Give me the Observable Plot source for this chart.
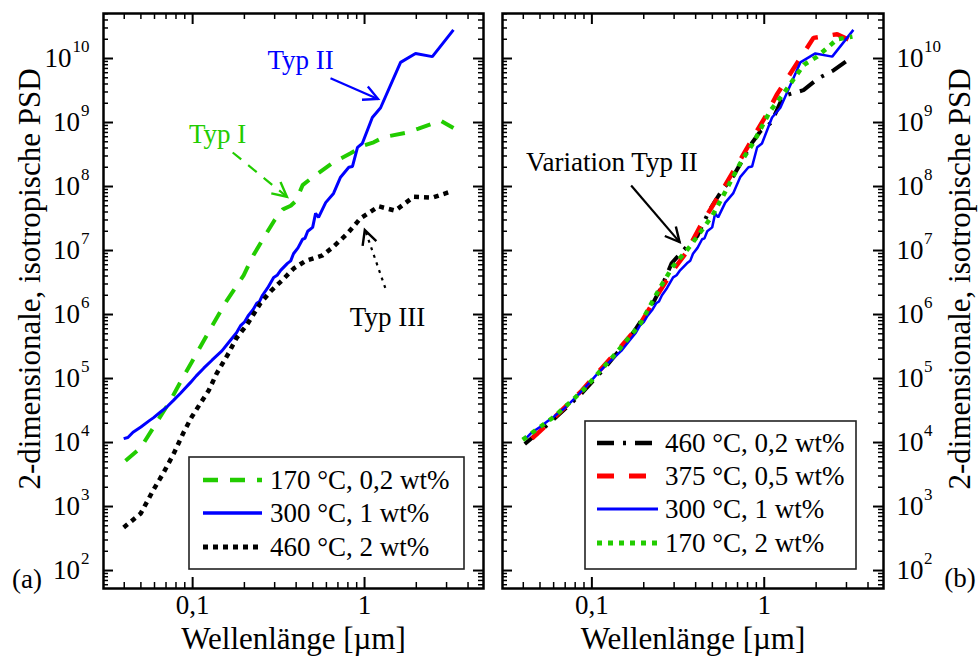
<!DOCTYPE html>
<html><head><meta charset="utf-8">
<script src="https://cdn.jsdelivr.net/npm/d3@7"></script>
<script src="https://cdn.jsdelivr.net/npm/@observablehq/plot@0.6"></script>
<style>
html,body{margin:0;padding:0;background:#fff;}
#wrap{position:relative;width:978px;height:668px;overflow:hidden;background:#fff;}
#pa{position:absolute;left:0;top:0;}
#pb{position:absolute;left:488px;top:0;}
</style></head><body>
<div id="wrap"><div id="pa"></div><div id="pb"></div></div>
<script>
// ---------- data (wavelength in µm, PSD) ----------
const typI_170_02 = [[0.0407,5.2e3],[0.0499,8.3e3],[0.059,1.7e4],[0.0745,4.6e4],[0.086,9.4e4],[0.0987,1.8e5],[0.116,3.9e5],[0.132,7.2e5],[0.158,1.65e6],[0.198,4.1e6],[0.226,8.5e6],[0.27,1.9e7],[0.30,3.0e7],[0.335,4.4e7],[0.372,5.0e7],[0.40,6.0e7],[0.436,1.05e8],[0.50,1.4e8],[0.66,2.4e8],[0.83,3.3e8],[1.0,4.4e8],[1.13,4.9e8],[1.29,5.9e8],[1.78,7.0e8],[2.06,8.0e8],[2.77,1.07e9],[3.29,8.2e8]];
const typII_300_1 = [[0.0397,1.15e4],[0.042,1.2e4],[0.045,1.45e4],[0.05,1.75e4],[0.056,2.2e4],[0.0593,2.45e4],[0.065,3.0e4],[0.07,3.5e4],[0.0776,4.6e4],[0.085,5.9e4],[0.0973,8.7e4],[0.105,1.1e5],[0.116,1.45e5],[0.13,1.95e5],[0.148,2.7e5],[0.165,3.9e5],[0.18,5.2e5],[0.19,6.7e5],[0.2,7.6e5],[0.21,9.5e5],[0.225,1.2e6],[0.236,1.5e6],[0.245,1.6e6],[0.255,2.0e6],[0.273,2.6e6],[0.296,3.8e6],[0.31,4.1e6],[0.325,4.9e6],[0.356,6.3e6],[0.372,6.9e6],[0.386,8.9e6],[0.41,1.1e7],[0.436,1.5e7],[0.45,1.55e7],[0.467,2.0e7],[0.499,2.3e7],[0.519,3.8e7],[0.54,3.3e7],[0.594,5.6e7],[0.66,7.8e7],[0.725,1.4e8],[0.81,2.0e8],[0.85,2.05e8],[0.91,4.1e8],[0.97,4.7e8],[1.11,1.2e9],[1.24,1.7e9],[1.62,8.7e9],[1.98,1.2e10],[2.48,1.07e10],[3.29,2.8e10]];
const typIII_460_2 = [[0.0397,470],[0.0499,780],[0.059,1.8e3],[0.0678,3.4e3],[0.0776,6.7e3],[0.0887,1.45e4],[0.0987,2.5e4],[0.111,4.1e4],[0.124,6.5e4],[0.138,1.2e5],[0.162,2.5e5],[0.18,4.3e5],[0.206,6.8e5],[0.248,1.5e6],[0.284,2.3e6],[0.338,3.6e6],[0.386,5.2e6],[0.454,6.9e6],[0.57,8.4e6],[0.66,1.15e7],[0.796,1.85e7],[0.948,3.2e7],[1.21,4.9e7],[1.51,4.2e7],[1.93,6.9e7],[2.48,6.7e7],[3.16,8.3e7]];

const var_460_02 = [[0.0408,9.5e3],[0.05,1.5e4],[0.06,2.3e4],[0.075,4.0e4],[0.088,6.0e4],[0.1,8.8e4],[0.12,1.5e5],[0.14,2.5e5],[0.165,4.2e5],[0.19,7.5e5],[0.22,1.3e6],[0.255,2.8e6],[0.29,6.3e6],[0.338,1.0e7],[0.41,1.7e7],[0.48,4.2e7],[0.53,6.5e7],[0.57,8.7e7],[0.66,1.45e8],[0.73,2.3e8],[0.83,4.4e8],[0.95,7.3e8],[1.1,1.0e9],[1.29,2.6e9],[1.69,3.2e9],[2.06,4.9e9],[2.52,6.5e9],[3.25,1.07e10]];
const var_375_05 = [[0.0449,1.15e4],[0.056,2.0e4],[0.07,3.6e4],[0.0875,6.5e4],[0.114,1.45e5],[0.14,2.7e5],[0.188,6.7e5],[0.245,2.2e6],[0.296,4.9e6],[0.35,9.0e6],[0.425,2.4e7],[0.555,7.8e7],[0.725,2.6e8],[0.91,7.5e8],[1.01,1.2e9],[1.19,2.8e9],[1.38,5.2e9],[1.93,2.1e10],[2.65,2.4e10],[3.25,1.85e10]];
const var_300_1 = typII_300_1;
const var_170_2 = [[0.0397,1.1e4],[0.05,1.75e4],[0.06,2.5e4],[0.075,4.3e4],[0.09,6.8e4],[0.11,1.25e5],[0.14,2.6e5],[0.19,7.0e5],[0.25,2.7e6],[0.296,5.7e6],[0.37,1.15e7],[0.43,2.0e7],[0.50,3.5e7],[0.578,7.2e7],[0.725,2.3e8],[0.86,4.7e8],[1.08,1.5e9],[1.29,2.8e9],[1.5,5.0e9],[1.7,8.0e9],[2.03,1.07e10],[2.65,2.0e10],[3.25,2.2e10]];

const labelsA = ["170 °C, 0,2 wt%", "300 °C, 1 wt%", "460 °C, 2 wt%"];
const labelsB = ["460 °C, 0,2 wt%", "375 °C, 0,5 wt%", "300 °C, 1 wt%", "170 °C, 2 wt%"];

const xTickValues = [0.1, 1];
const xTickLabels = ["0,1", "1"];
const yExponents = [2,3,4,5,6,7,8,9,10];
const minorFactors = [2,3,4,5,6,7,8,9];

// annotations (data coordinates)
const annotA = [
  {x:0.425, y:9.5e9, text:"Typ II", color:"#0000ff"},
  {x:0.1396, y:6.6e8, text:"Typ I", color:"#22cc00"},
  {x:1.36, y:9.0e5, text:"Typ III", color:"#000000"}
];
const arrowsA = [
  {x1:0.634, y1:4.9e9, x2:1.205, y2:2.3e9, color:"#0000ff", dash:null},
  {x1:0.171, y1:3.4e8, x2:0.356, y2:6.8e7, color:"#22cc00", dash:"11,9"},
  {x1:1.32, y1:2.6e6, x2:1.01, y2:2.05e7, color:"#000000", dash:"3,5"}
];
const annotB = [{x:0.1306, y:2.4e8, text:"Variation Typ II", color:"#000000"}];
const arrowsB = [{x1:0.169, y1:1.04e8, x2:0.325, y2:1.33e7, color:"#000000", dash:null}];

// ---------- styling ----------
const FONT = "'Liberation Serif','Times New Roman',serif";
const GREEN = "#22cc00", BLUE = "#0000ff", RED = "#ff0000", BLACK = "#000000";
const seriesA = [
  {data:typI_170_02, color:GREEN, width:4, dash:"15,12"},
  {data:typII_300_1, color:BLUE, width:3, dash:null},
  {data:typIII_460_2, color:BLACK, width:4.5, dash:"5,5"}
];
const seriesB = [
  {data:var_460_02, color:BLACK, width:4, dash:"17,9,3,9"},
  {data:var_375_05, color:RED, width:4.5, dash:"17,15"},
  {data:var_300_1, color:BLUE, width:2.5, dash:null},
  {data:var_170_2, color:GREEN, width:4.5, dash:"5,6"}
];

const H = 668, MT = 13, MB = 80;
const FH = H - MT - MB;
const xDomain = [0.0303, 4.92];
const yDomain = [52.4, 5.05e10];

const yMajor = yExponents.map(e => Math.pow(10, e));
const yMinor = [];
for (let e = 1; e <= 10; e++) for (const f of minorFactors) { const v = f * Math.pow(10, e); if (v > yDomain[0] && v < yDomain[1]) yMinor.push(v); }
const xMajor = xTickValues;
const xMinor = [];
for (const e of [-2,-1,0]) for (const f of minorFactors) { const v = f * Math.pow(10, e); if (v > xDomain[0] && v < xDomain[1]) xMinor.push(v); }

function makePanel({series, annots, arrows, side, width, ml, mr}) {
  const FW = width - ml - mr;
  const toObj = d => d.map(([x,y]) => ({x,y}));
  const marks = [];
  const tk = (vals, len, sw) => [
    Plot.tickX(vals, {x: d => d, insetTop: FH - len, stroke: BLACK, strokeWidth: sw}),
    Plot.tickX(vals, {x: d => d, insetBottom: FH - len, stroke: BLACK, strokeWidth: sw}),
  ];
  const tky = (vals, len, sw) => [
    Plot.tickY(vals, {y: d => d, insetRight: FW - len, stroke: BLACK, strokeWidth: sw}),
    Plot.tickY(vals, {y: d => d, insetLeft: FW - len, stroke: BLACK, strokeWidth: sw}),
  ];
  marks.push(...tk(xMajor, 11, 2), ...tk(xMinor, 6, 1.5), ...tky(yMajor, 10, 2), ...tky(yMinor, 5, 1.5));
  for (const s of series) {
    marks.push(Plot.line(toObj(s.data), {x:"x", y:"y", stroke:s.color, strokeWidth:s.width, strokeDasharray:s.dash, strokeLinejoin:"miter", strokeLinecap:"butt"}));
  }
  // arrow shafts (heads added after rendering, via the plot's scales)
  for (const a of arrows) {
    marks.push(Plot.link([a], {x1:"x1", y1:"y1", x2:"x2", y2:"y2", stroke:a.color, strokeWidth:2.2, strokeDasharray:a.dash}));
  }
  marks.push(Plot.text(annots, {x:"x", y:"y", text:"text", fill:d => d.color, fontSize:27, textAnchor:"middle"}));
  marks.push(Plot.text(xTickValues, {x: d => d, frameAnchor:"bottom", dy: 25, text: (d,i) => xTickLabels[i], fontSize:27, textAnchor:"middle"}));
  const expW = e => String(e).length * 8.5;
  if (side === "left") {
    for (const e of yExponents) {
      const v = Math.pow(10, e);
      marks.push(Plot.text([v], {y: d => d, frameAnchor:"left", dx: -14 - expW(e) - 1, textAnchor:"end", text: () => "10", fontSize:27}));
    }
    marks.push(Plot.text(yMajor, {y: d => d, frameAnchor:"left", dx: -14, dy: -12, textAnchor:"end", text: (d,i) => String(yExponents[i]), fontSize:17}));
  } else {
    marks.push(Plot.text(yMajor, {y: d => d, frameAnchor:"right", dx: 13, textAnchor:"start", text: () => "10", fontSize:27}));
    marks.push(Plot.text(yMajor, {y: d => d, frameAnchor:"right", dx: 13 + 27.5, dy: -12, textAnchor:"start", text: (d,i) => String(yExponents[i]), fontSize:17}));
  }
  marks.push(Plot.text(["Wellenlänge [µm]"], {frameAnchor:"bottom", dy: 60, fontSize:31, text: d => d, textAnchor:"middle"}));
  marks.push(Plot.text(["2-dimensionale, isotropische PSD"], {frameAnchor: side === "left" ? "left" : "right", dx: side === "left" ? -(ml - 30) : 77, dy: -22, rotate: -90, fontSize:31, text: d => d, textAnchor:"middle"}));
  marks.push(Plot.frame({stroke: BLACK, strokeWidth: 2.5}));

  const svg = Plot.plot({
    width, height: H,
    marginLeft: ml, marginRight: mr, marginTop: MT, marginBottom: MB,
    x: {type:"log", domain: xDomain, axis: null},
    y: {type:"log", domain: yDomain, axis: null},
    style: {fontFamily: FONT, fontSize: "27px", color: "#000", background: "transparent", overflow: "visible"},
    marks
  });
  // arrowheads from the plot's own scales
  const sx = svg.scale("x"), sy = svg.scale("y");
  const px = v => sx.apply(v), py = v => sy.apply(v);
  const g = d3.select(svg).append("g");
  for (const a of arrows) {
    const x1 = px(a.x1), y1 = py(a.y1), x2 = px(a.x2), y2 = py(a.y2);
    const th = Math.atan2(y2 - y1, x2 - x1), L = 16, al = 27 * Math.PI / 180;
    const w1 = [x2 - L * Math.cos(th - al), y2 - L * Math.sin(th - al)];
    const w2 = [x2 - L * Math.cos(th + al), y2 - L * Math.sin(th + al)];
    g.append("path").attr("d", `M${w1[0]},${w1[1]}L${x2},${y2}L${w2[0]},${w2[1]}`)
      .attr("fill", "none").attr("stroke", a.color).attr("stroke-width", 2.4).attr("stroke-linejoin", "miter");
  }
  return svg;
}

function addLegend(svg, labels, series, box, rowY, sampleX, textX) {
  const g = d3.select(svg).append("g").attr("font-family", FONT).attr("font-size", 27).attr("text-anchor", "start");
  g.append("rect").attr("x", box[0]).attr("y", box[1]).attr("width", box[2] - box[0]).attr("height", box[3] - box[1])
    .attr("fill", "white").attr("stroke", "#222").attr("stroke-width", 1.6);
  labels.forEach((lab, i) => {
    const s = series[i];
    g.append("line").attr("x1", sampleX[0]).attr("x2", sampleX[1]).attr("y1", rowY[i]).attr("y2", rowY[i])
      .attr("stroke", s.color).attr("stroke-width", s.width + 0.5).attr("stroke-dasharray", s.dash);
    g.append("text").attr("x", textX).attr("y", rowY[i]).attr("dy", "0.34em").attr("fill", "#000")
      .attr("text-anchor", "start").text(lab);
  });
}
function addTag(svg, x, y, t) {
  d3.select(svg).append("text").attr("x", x).attr("y", y).attr("dy", "0.34em").attr("text-anchor", "middle")
    .attr("font-family", FONT).attr("font-size", 27).text(t);
}

const svgA = makePanel({series: seriesA, annots: annotA, arrows: arrowsA, side:"left", width:490, ml:103, mr:7});
addLegend(svgA, labelsA, seriesA, [189, 457, 464, 569], [480, 513, 547], [203, 262], 270);
addTag(svgA, 27, 579, "(a)");
document.getElementById("pa").appendChild(svgA);

const svgB = makePanel({series: seriesB, annots: annotB, arrows: arrowsB, side:"right", width:490, ml:14, mr:95});
addLegend(svgB, labelsB, seriesB, [97, 421, 368, 569], [443, 476, 509, 543], [109, 170], 177);
addTag(svgB, 472, 578, "(b)");
document.getElementById("pb").appendChild(svgB);
</script></body></html>
